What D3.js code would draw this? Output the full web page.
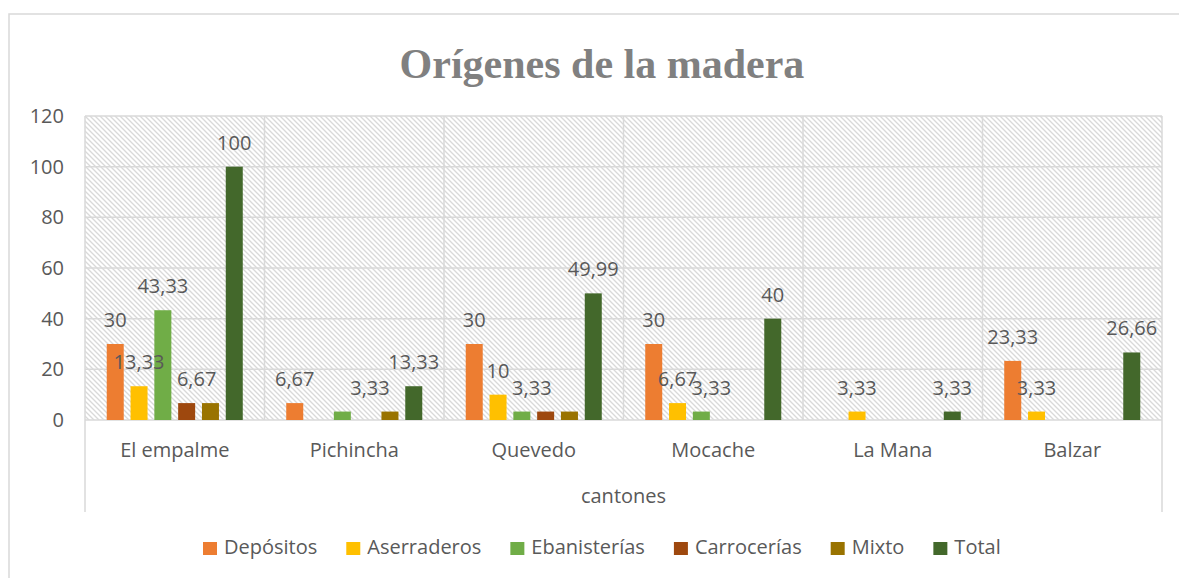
<!DOCTYPE html>
<html>
<head>
<meta charset="utf-8">
<script src="https://cdn.jsdelivr.net/npm/d3@7"></script>
<style>
  body { margin: 0; background: #fff; }
  text { font-family: "Open Sans", sans-serif; fill: #595959; }
</style>
</head>
<body>
<svg></svg>
<script>
var categories = ["El empalme", "Pichincha", "Quevedo", "Mocache", "La Mana", "Balzar"];
var seriesNames = ["Depósitos", "Aserraderos", "Ebanisterías", "Carrocerías", "Mixto", "Total"];
var depositos    = [30, 6.67, 30, 30, 0, 23.33];
var aserraderos  = [13.33, 0, 10, 6.67, 3.33, 3.33];
var ebanisterias = [43.33, 3.33, 3.33, 3.33, 0, 0];
var carrocerias  = [6.67, 0, 3.33, 0, 0, 0];
var mixto        = [6.67, 3.33, 3.33, 0, 0, 0];
var total        = [100, 13.33, 49.99, 40, 3.33, 26.66];
var yTicks = [0, 20, 40, 60, 80, 100, 120];
var colors = ["#ED7D31", "#FFC000", "#70AD47", "#9E480E", "#997300", "#43682B"];

// labels Excel hid because they overlapped, and the ones it nudged sideways
var hiddenLabels = ["El empalme|Mixto", "Pichincha|Ebanisterías", "Quevedo|Carrocerías", "Quevedo|Mixto"];
var labelNudge = {"El empalme|Carrocerías": 10, "Pichincha|Mixto": -20, "Quevedo|Ebanisterías": 10, "Mocache|Ebanisterías": 10};

var allSeries = [depositos, aserraderos, ebanisterias, carrocerias, mixto, total];

var W = 1179, H = 578;
var margin = {top: 116, right: 17, bottom: 158, left: 85};
var plotW = W - margin.left - margin.right;
var plotH = H - margin.top - margin.bottom;
var fs = "20px";

var svg = d3.select("svg").attr("width", W).attr("height", H);

var defs = svg.append("defs");
var pat = defs.append("pattern")
    .attr("id", "hatch")
    .attr("patternUnits", "userSpaceOnUse")
    .attr("width", 5).attr("height", 5);
pat.append("rect").attr("width", 5).attr("height", 5).attr("fill", "#fff");
pat.append("path")
    .attr("d", "M-1,-1L6,6M-1,4L1,6M4,-1L6,1")
    .attr("stroke", "#d9d9d9")
    .attr("stroke-width", 1.3);

// chart frame
svg.append("rect")
    .attr("x", 9).attr("y", 14)
    .attr("width", 1200).attr("height", 600)
    .attr("fill", "none")
    .attr("stroke", "#d9d9d9")
    .attr("stroke-width", 1.5);

svg.append("text")
    .attr("x", 602).attr("y", 78)
    .attr("text-anchor", "middle")
    .style("font-family", "'Liberation Serif', 'Times New Roman', serif")
    .style("font-weight", "bold")
    .style("font-size", "42px")
    .style("fill", "#808080")
    .text("Orígenes de la madera");

var g = svg.append("g")
    .attr("transform", "translate(" + margin.left + "," + margin.top + ")");

var x0 = d3.scaleBand().domain(categories).range([0, plotW]);
var x1 = d3.scaleBand().domain(seriesNames).range([0, x0.bandwidth()])
    .paddingInner(0.286).paddingOuter(0.913);
var y = d3.scaleLinear().domain([0, 120]).range([plotH, 0]);

g.append("rect")
    .attr("width", plotW).attr("height", plotH)
    .attr("fill", "url(#hatch)");

g.selectAll(".hgrid")
    .data(yTicks)
    .enter().append("line")
    .attr("class", "hgrid")
    .attr("x1", 0).attr("x2", plotW)
    .attr("y1", function(d) { return y(d); })
    .attr("y2", function(d) { return y(d); })
    .attr("stroke", "#d9d9d9")
    .attr("stroke-width", 1.5);

// category separators; outer ones run down through the axis label area
var edges = categories.map(function(c) { return x0(c); }).concat([plotW]);
g.selectAll(".vgrid")
    .data(edges)
    .enter().append("line")
    .attr("class", "vgrid")
    .attr("x1", function(d) { return d; })
    .attr("x2", function(d) { return d; })
    .attr("y1", 0)
    .attr("y2", function(d, i) { return (i == 0 || i == edges.length - 1) ? plotH + 92 : plotH; })
    .attr("stroke", "#d9d9d9")
    .attr("stroke-width", 1.5);

var yAxis = g.append("g")
    .call(d3.axisLeft(y).tickValues(yTicks).tickSize(0).tickPadding(21));
yAxis.select(".domain").remove();
yAxis.selectAll("text")
    .style("font-family", "'Open Sans', sans-serif")
    .style("font-size", fs)
    .attr("fill", "#595959");

var rows = [];
categories.forEach(function(c, ci) {
    seriesNames.forEach(function(s, si) {
        rows.push({cat: c, ser: s, si: si, v: allSeries[si][ci]});
    });
});

g.selectAll(".bar")
    .data(rows.filter(function(d) { return d.v > 0; }))
    .enter().append("rect")
    .attr("class", "bar")
    .attr("x", function(d) { return x0(d.cat) + x1(d.ser); })
    .attr("y", function(d) { return y(d.v); })
    .attr("width", x1.bandwidth())
    .attr("height", function(d) { return y(0) - y(d.v); })
    .attr("fill", function(d) { return colors[d.si]; });

var fmt = function(v) { return String(v).replace(".", ","); };

g.selectAll(".lbl")
    .data(rows.filter(function(d) { return d.v > 0 && hiddenLabels.indexOf(d.cat + "|" + d.ser) < 0; }))
    .enter().append("text")
    .attr("class", "lbl")
    .attr("x", function(d) { return x0(d.cat) + x1(d.ser) + x1.bandwidth() / 2 + (labelNudge[d.cat + "|" + d.ser] || 0); })
    .attr("y", function(d) { return y(d.v) - 17; })
    .attr("text-anchor", "middle")
    .style("font-size", fs)
    .text(function(d) { return fmt(d.v); });

g.selectAll(".cat")
    .data(categories)
    .enter().append("text")
    .attr("class", "cat")
    .attr("x", function(d) { return x0(d) + x0.bandwidth() / 2; })
    .attr("y", plotH + 37)
    .attr("text-anchor", "middle")
    .style("font-size", fs)
    .text(function(d) { return d; });

g.append("text")
    .attr("x", plotW / 2).attr("y", plotH + 83)
    .attr("text-anchor", "middle")
    .style("font-size", fs)
    .text("cantones");

// legend
var legend = svg.append("g").attr("transform", "translate(203,542)");
var lx = 0;
seriesNames.forEach(function(s, i) {
    var item = legend.append("g").attr("transform", "translate(" + lx + ",0)");
    item.append("rect").attr("width", 14).attr("height", 13).attr("fill", colors[i]);
    var t = item.append("text")
        .attr("x", 21).attr("y", 12)
        .style("font-size", fs)
        .text(s);
    lx += 21 + t.node().getComputedTextLength() + 29;
});
</script>
</body>
</html>
